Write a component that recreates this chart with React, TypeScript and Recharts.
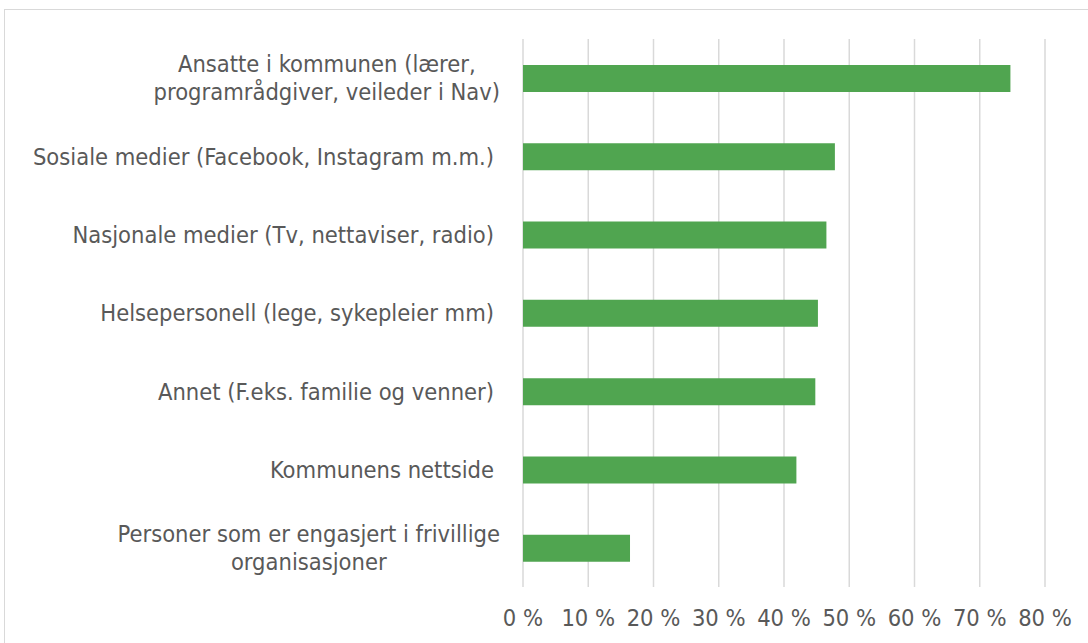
import * as React from 'react';
import { BarChart, Bar, XAxis, YAxis, CartesianGrid } from 'recharts';

const categories = [
  'Ansatte i kommunen (lærer,\nprogramrådgiver, veileder i Nav)',
  'Sosiale medier (Facebook, Instagram m.m.)',
  'Nasjonale medier (Tv, nettaviser, radio)',
  'Helsepersonell (lege, sykepleier mm)',
  'Annet (F.eks. familie og venner)',
  'Kommunens nettside',
  'Personer som er engasjert i frivillige\norganisasjoner',
];
const shares = [74.7, 47.8, 46.5, 45.2, 44.8, 41.9, 16.4];
const xTicks = [0, 10, 20, 30, 40, 50, 60, 70, 80];

const data = categories.map((name, i) => ({ name, value: shares[i] }));

const FONT = "'DejaVu Sans Condensed', 'DejaVu Sans', sans-serif";
const FONT_SIZE = 23.5;
const TEXT = '#595959';

function CategoryTick(props: any) {
  const { y, payload } = props;
  const lines = String(payload.value).split('\n');
  if (lines.length === 1) {
    return (
      <text x={494} y={y} dy="0.35em" textAnchor="end" fill={TEXT} fontSize={FONT_SIZE} fontFamily={FONT}>
        {lines[0]}
      </text>
    );
  }
  // wrapped labels: centred block, right edge next to the plot
  const lh = 28;
  const h = lines.length * lh + 4;
  return (
    <foreignObject x={0} y={y - h / 2} width={500} height={h}>
      <div
        style={{
          display: 'flex',
          justifyContent: 'flex-end',
          alignItems: 'center',
          height: '100%',
          fontFamily: FONT,
          fontSize: FONT_SIZE,
          color: TEXT,
          lineHeight: `${lh}px`,
          whiteSpace: 'nowrap',
        }}
      >
        <div style={{ textAlign: 'center' }}>
          {lines.map((l, i) => (
            <div key={i}>{l}</div>
          ))}
        </div>
      </div>
    </foreignObject>
  );
}

function PercentTick(props: any) {
  const { x, payload } = props;
  return (
    <text x={x} y={626} textAnchor="middle" fill={TEXT} fontSize={FONT_SIZE} fontFamily={FONT}>
      {`${payload.value} %`}
    </text>
  );
}

export default function App() {
  return (
    <div style={{ position: 'relative', width: 1088, height: 643, overflow: 'hidden', background: '#fff' }}>
      <style>{'body{margin:0;overflow:hidden}'}</style>
      <div
        style={{
          position: 'absolute',
          left: 4,
          top: 9,
          width: 1200,
          height: 700,
          border: '1px solid #d9d9d9',
        }}
      />
      <div style={{ position: 'absolute', left: 0, top: 0 }}>
        <BarChart
          width={1088}
          height={643}
          data={data}
          layout="vertical"
          margin={{ top: 39, right: 43, bottom: 26, left: 0 }}
        >
          <CartesianGrid horizontal={false} stroke="#d9d9d9" strokeWidth={1.5} />
          <XAxis
            type="number"
            domain={[0, 80]}
            ticks={xTicks}
            height={30}
            axisLine={false}
            tickLine={false}
            tick={<PercentTick />}
            interval={0}
          />
          <YAxis
            type="category"
            dataKey="name"
            width={523}
            axisLine={false}
            tickLine={false}
            tick={<CategoryTick />}
            interval={0}
          />
          <Bar dataKey="value" fill="#50A550" barSize={27} isAnimationActive={false} />
        </BarChart>
      </div>
    </div>
  );
}
